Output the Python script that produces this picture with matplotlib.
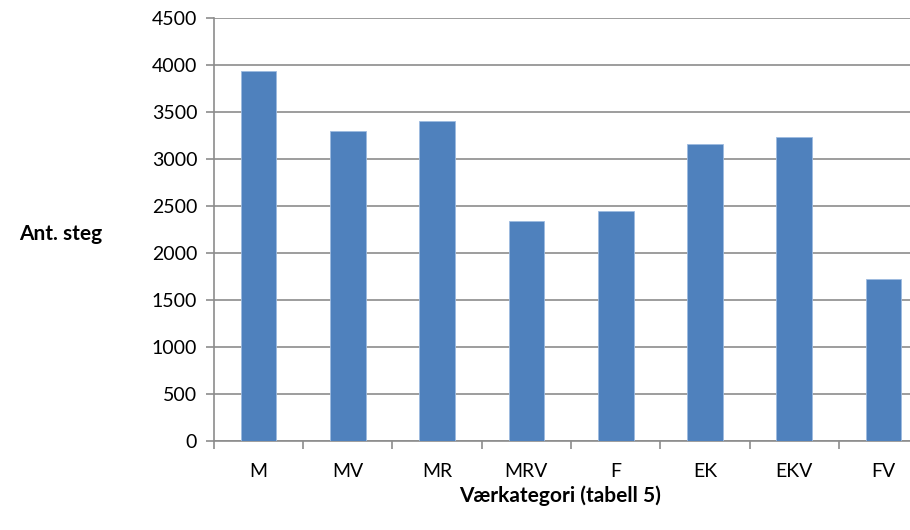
import numpy as np
import matplotlib.pyplot as plt

# steps per category
kategorier = ["M", "MV", "MR", "MRV", "F", "EK", "EKV", "FV"]
ant_steg = [3933, 3295, 3405, 2342, 2452, 3164, 3235, 1719]

plt.rcParams["font.family"] = ["Lato", "DejaVu Sans"]

fig = plt.figure(figsize=(9.1, 5.3), dpi=100)
ax = fig.add_axes([0.235, 0.168, 0.785, 0.798])

x = np.arange(len(kategorier))
ax.bar(x, ant_steg, width=0.4, color="#4f81bd", edgecolor="#9dbbe0", linewidth=0.6, zorder=3)

ax.set_xlim(-0.5, len(kategorier) - 0.5)
ax.set_ylim(0, 4500)
ax.set_yticks(range(0, 4501, 500))
ax.yaxis.grid(True, color="#8c8c8c", linewidth=1.2, zorder=0)

# category labels centred on the bars, ticks on the boundaries
ax.set_xticks(np.arange(len(kategorier) + 1) - 0.5)
ax.set_xticklabels([])
ax.set_xticks(x, minor=True)
ax.set_xticklabels(kategorier, minor=True, fontsize=14)
ax.tick_params(axis="x", which="minor", length=0, pad=16)
ax.tick_params(axis="x", which="major", length=6, width=1.2, color="#8c8c8c", direction="out")
ax.tick_params(axis="y", length=6, width=1.2, color="#8c8c8c", labelsize=14, pad=6)

for side in ["top", "right"]:
    ax.spines[side].set_visible(False)
for side in ["left", "bottom"]:
    ax.spines[side].set_color("#8c8c8c")
    ax.spines[side].set_linewidth(1.2)

ax.set_xlabel("Værkategori (tabell 5)", fontsize=15, fontweight="bold")
ax.xaxis.set_label_coords(0.485, -0.105)
ax.xaxis.label.set_va("top")
ax.set_ylabel("Ant. steg", fontsize=15, fontweight="bold", rotation=0, ha="center", va="center")
ax.yaxis.set_label_coords(-0.215, 0.49)

fig.savefig("out.png", dpi=100)
